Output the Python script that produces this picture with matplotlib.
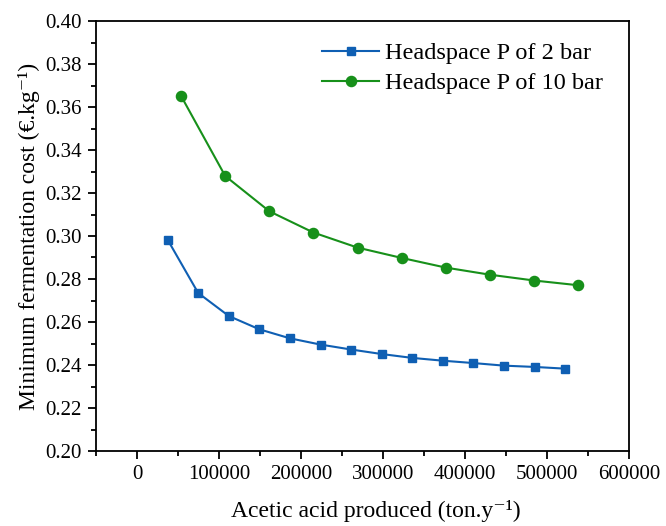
import matplotlib
matplotlib.use("Agg")
import matplotlib.pyplot as plt
from matplotlib.ticker import MultipleLocator

x_2bar = [37300, 74600, 111900, 149200, 186500, 223800, 261100, 298400,
          335700, 373000, 410300, 447600, 484900, 522200]
y_2bar = [0.2983, 0.2735, 0.2628, 0.2566, 0.2524, 0.2495, 0.2472, 0.2451,
          0.2433, 0.2420, 0.2409, 0.2397, 0.2391, 0.2383]
x_10bar = [53800, 107600, 161400, 215200, 269000, 322800, 376600, 430400,
           484200, 538000]
y_10bar = [0.3651, 0.3279, 0.3115, 0.3016, 0.2946, 0.2898, 0.2853, 0.2820,
           0.2793, 0.2771]
labels = ["Headspace P of 2 bar", "Headspace P of 10 bar"]
xticks = [0, 100000, 200000, 300000, 400000, 500000, 600000]
yticks = [0.20, 0.22, 0.24, 0.26, 0.28, 0.30, 0.32, 0.34, 0.36, 0.38, 0.40]

plt.rcParams['font.family'] = ['Liberation Serif', 'DejaVu Serif']

fig = plt.figure(figsize=(6.66, 5.26), dpi=100)
ax = fig.add_axes([96/666, 1-451/526, (629-96)/666, (451-21)/526])

ax.plot(x_2bar, y_2bar, '-s', color='#0F5FB3', lw=1.5, ms=6.3, label=labels[0])
ax.plot(x_10bar, y_10bar, '-o', color='#17901A', lw=1.5, ms=7.3, label=labels[1])

ax.set_xlim(-50000, 600000)
ax.set_ylim(0.20, 0.40)
ax.set_xticks(xticks)
ax.set_xticklabels([str(v) for v in xticks])
ax.set_yticks(yticks)
ax.set_yticklabels([f"{v:.2f}" for v in yticks])
ax.xaxis.set_minor_locator(MultipleLocator(50000))
ax.yaxis.set_minor_locator(MultipleLocator(0.01))

ax.tick_params(which='major', direction='out', length=6, width=1.3, labelsize=15, pad=4)
ax.tick_params(which='minor', direction='out', length=3.5, width=1.3)
for s in ax.spines.values():
    s.set_linewidth(1.3)

ax.set_xlabel("Acetic acid produced (ton.y\u207b\u00b9)", fontsize=17)
ax.set_ylabel("Minimum fermentation cost (€.kg\u207b\u00b9)", fontsize=17)
ax.xaxis.set_label_coords(0.525, -0.115)
ax.yaxis.set_label_coords(-0.106, 0.5)

ax.legend(loc='upper left', frameon=False, fontsize=17.5, handlelength=2.35,
          handletextpad=0.25, labelspacing=0.34, borderpad=0, borderaxespad=0,
          bbox_to_anchor=(0.424, 0.951))

fig.savefig("out.png", dpi=100)
